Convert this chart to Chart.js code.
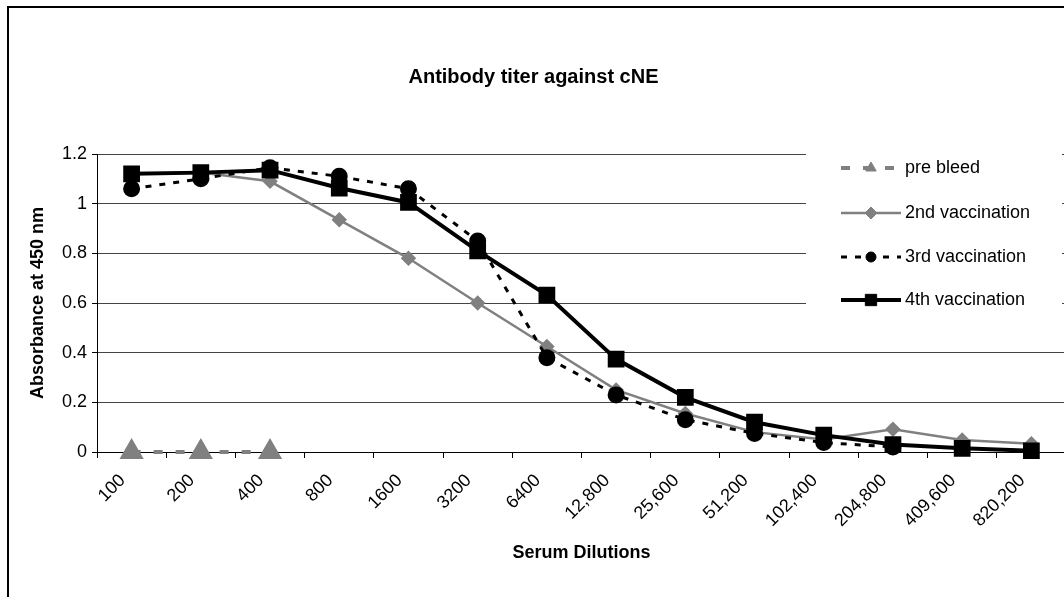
<!DOCTYPE html>
<html>
<head>
<meta charset="utf-8">
<script src="https://cdn.jsdelivr.net/npm/chart.js@4.4.1/dist/chart.umd.min.js"></script>
<style>
  html, body { margin: 0; padding: 0; background: #fff; overflow: hidden; }
  #wrap { position: absolute; left: 0; top: 0; width: 1080px; height: 597px; }
</style>
</head>
<body>
<div id="wrap"><canvas id="titer"></canvas></div>
<script>
// data
const dilutions = ['100', '200', '400', '800', '1600', '3200', '6400', '12,800', '25,600', '51,200', '102,400', '204,800', '409,600', '820,200'];
const preBleed = [0, 0, 0, null, null, null, null, null, null, null, null, null, null, null];
const vacc2 = [1.12, 1.125, 1.09, 0.935, 0.78, 0.60, 0.425, 0.25, 0.155, 0.08, 0.05, 0.092, 0.048, 0.033];
const vacc3 = [1.06, 1.10, 1.145, 1.11, 1.06, 0.85, 0.38, 0.23, 0.13, 0.075, 0.038, 0.02, null, null];
const vacc4 = [1.12, 1.125, 1.135, 1.063, 1.005, 0.81, 0.632, 0.374, 0.22, 0.12, 0.068, 0.03, 0.015, 0.005];
const seriesNames = ['pre bleed', '2nd vaccination', '3rd vaccination', '4th vaccination'];

const FONT = '"Liberation Sans", Arial, sans-serif';
const GREY = '#808080';
Chart.defaults.font.family = FONT;
Chart.defaults.color = '#000';

// white page + outer frame (cut off at right/bottom like the original)
const framePlugin = {
    id: 'frame',
    beforeDraw(chart) {
        const ctx = chart.ctx;
        ctx.save();
        ctx.fillStyle = '#fff';
        ctx.fillRect(0, 0, chart.width, chart.height);
        ctx.strokeStyle = '#000';
        ctx.lineWidth = 2;
        ctx.strokeRect(8, 7, chart.width + 50, chart.height + 50);
        ctx.restore();
    }
};

// legend sitting on top of the plot area, like excel does it
const legendPlugin = {
    id: 'sideLegend',
    afterDatasetsDraw(chart) {
        const ctx = chart.ctx;
        ctx.save();
        ctx.fillStyle = '#fff';
        ctx.fillRect(806, 138, 256, 190);
        const rowY = [168, 213, 257, 300];
        chart.data.datasets.forEach((ds, i) => {
            const y = rowY[i];
            ctx.strokeStyle = ds.borderColor;
            ctx.lineWidth = ds.borderWidth;
            ctx.setLineDash(ds.borderDash || []);
            ctx.beginPath();
            ctx.moveTo(841, y);
            ctx.lineTo(901, y);
            ctx.stroke();
            ctx.setLineDash([]);
            ctx.fillStyle = ds.pointBackgroundColor;
            ctx.strokeStyle = ds.pointBorderColor;
            ctx.lineWidth = 1;
            Chart.helpers.drawPoint(ctx, {pointStyle: ds.pointStyle, radius: ds.legendRadius, borderWidth: 1}, 871, y);
            ctx.fillStyle = '#000';
            ctx.font = '18px ' + FONT;
            ctx.textAlign = 'left';
            ctx.textBaseline = 'middle';
            ctx.fillText(ds.label, 905, y);
        });
        ctx.restore();
    }
};

const titerChart = new Chart(document.querySelector('#titer'), {
    type: 'line',
    data: {
        labels: dilutions,
        datasets: [
            {
                label: seriesNames[0],
                data: preBleed,
                borderColor: GREY,
                borderWidth: 4,
                borderDash: [9, 13],
                pointStyle: 'triangle',
                pointRadius: 10,
                legendRadius: 6,
                pointBackgroundColor: GREY,
                pointBorderColor: GREY,
                clip: false,
                order: 3,
            },
            {
                label: seriesNames[1],
                data: vacc2,
                borderColor: GREY,
                borderWidth: 2.5,
                pointStyle: 'rectRot',
                pointRadius: 6,
                legendRadius: 6,
                pointBackgroundColor: GREY,
                pointBorderColor: GREY,
                clip: false,
                order: 2,
            },
            {
                label: seriesNames[2],
                data: vacc3,
                borderColor: '#000',
                borderWidth: 3,
                borderDash: [6, 8],
                pointStyle: 'circle',
                pointRadius: 7,
                legendRadius: 5,
                pointBackgroundColor: '#000',
                pointBorderColor: '#000',
                clip: false,
                order: 1,
            },
            {
                label: seriesNames[3],
                data: vacc4,
                borderColor: '#000',
                borderWidth: 4,
                pointStyle: 'rect',
                pointRadius: 9,
                legendRadius: 8,
                pointBackgroundColor: '#000',
                pointBorderColor: '#000',
                clip: false,
                order: 0,
            },
        ],
    },
    options: {
        responsive: true,
        maintainAspectRatio: false,
        animation: false,
        layout: { padding: { left: 0, right: 13, top: 0, bottom: 0 } },
        elements: { line: { tension: 0 }, point: { borderWidth: 1, hoverRadius: 9 } },
        plugins: {
            legend: { display: false },
            tooltip: { enabled: false },
            title: {
                display: true,
                text: 'Antibody titer against cNE',
                font: { size: 20, weight: 'bold' },
                color: '#000',
                padding: { top: 65, bottom: 65 },
            },
        },
        scales: {
            x: {
                offset: true,
                afterFit: (s) => { s.height = 145; },
                grid: {
                    offset: true,
                    drawOnChartArea: false,
                    tickLength: 6,
                    color: '#000',
                    tickColor: '#000',
                },
                border: { color: '#000', width: 1 },
                ticks: {
                    autoSkip: false,
                    maxRotation: 45,
                    minRotation: 45,
                    padding: 12,
                    labelOffset: -9,
                    font: { size: 18 },
                    color: '#000',
                },
                title: {
                    display: true,
                    text: 'Serum Dilutions',
                    font: { size: 18, weight: 'bold' },
                    color: '#000',
                    padding: { top: 0, bottom: 33 },
                },
            },
            y: {
                min: 0,
                max: 1.2,
                afterFit: (s) => { s.width = 97; },
                grid: {
                    color: '#444',
                    tickColor: '#000',
                    tickLength: 5,
                },
                border: { color: '#000', width: 1 },
                ticks: {
                    stepSize: 0.2,
                    padding: 5,
                    font: { size: 18 },
                    color: '#000',
                    callback: (v) => String(Number(v.toFixed(1))),
                },
                title: {
                    display: true,
                    text: 'Absorbance at 450 nm',
                    font: { size: 18, weight: 'bold' },
                    color: '#000',
                    padding: { top: 27, bottom: 0 },
                },
            },
        },
    },
    plugins: [framePlugin, legendPlugin],
});
</script>
</body>
</html>
